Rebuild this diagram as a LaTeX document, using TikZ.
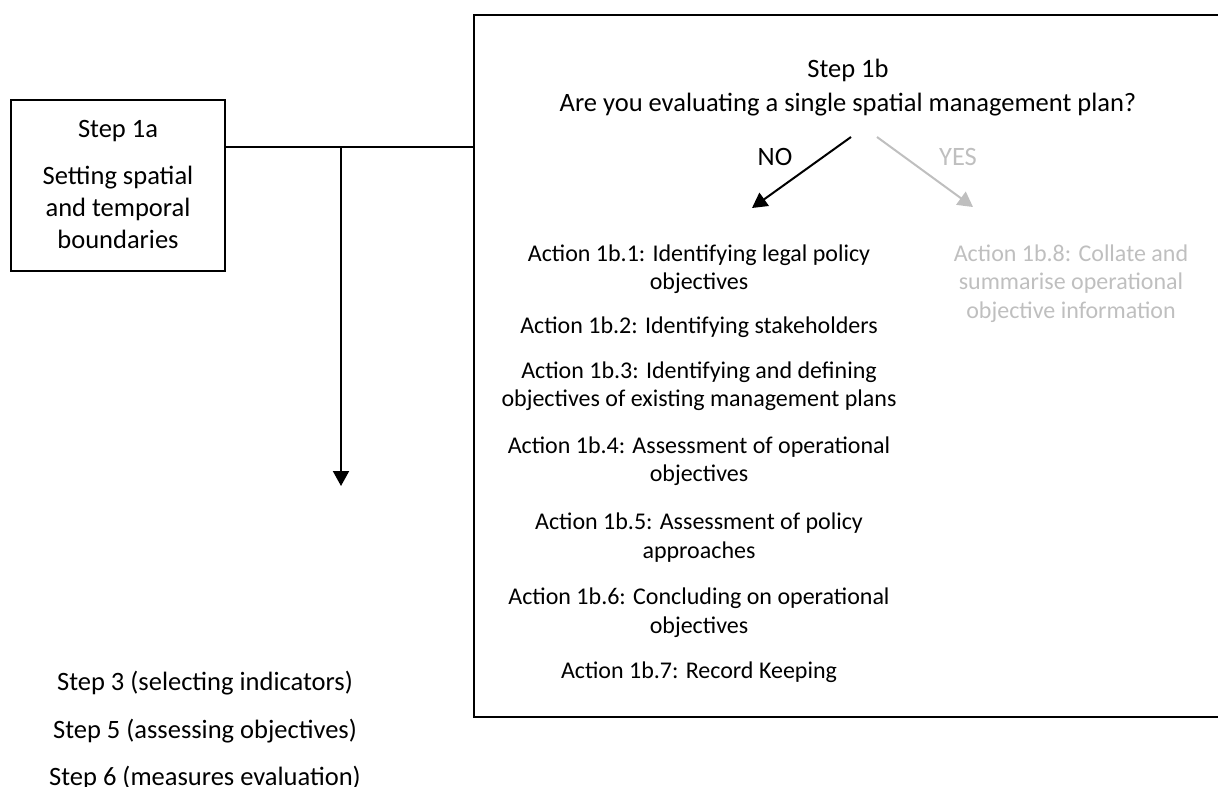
\documentclass[tikz,border=0pt]{standalone}
\usepackage{fontspec}
\setmainfont{Carlito}
\usetikzlibrary{arrows.meta}
\definecolor{faded}{HTML}{BFBFBF}
\begin{document}
% multi-line nodes are placed by the baseline of their last line
\begin{tikzpicture}[x=1pt,y=-1pt,
  frame/.style={draw, line width=2pt, inner sep=0pt},
  steptext/.style={font=\fontsize{26.5}{32.3}\selectfont, inner sep=0pt, align=center, anchor=base},
  actiontext/.style={font=\fontsize{24}{28.5}\selectfont, inner sep=0pt, align=center, anchor=base},
  flow/.style={line width=2pt, -{Triangle[length=15pt,width=16pt]}},
]
\useasboundingbox (0,0) rectangle (1218,787);
\clip (0,0) rectangle (1218,787);

% Step 1a box
\node[frame, minimum width=214pt, minimum height=171pt] (s1a) at (118,185.5) {};
\node[steptext] (s1atitle) at (118,137) {Step 1a};
\node[steptext] (s1abody) at (118,248.6) {Setting spatial\\and temporal\\boundaries};

% Step 1b box (runs off the right edge)
\node[frame, minimum width=780pt, minimum height=702pt] (b1b) at (864,366) {};
\node[steptext] (b1btitle) at (848,77) {Step 1b};
\node[steptext] (question) at (848,111) {Are you evaluating a single spatial management plan?};

% link between the two steps and the downward branch
\coordinate (junction) at (341,147);
\coordinate (downend) at (341,486);
\draw[line width=2pt] (junction -| s1a.east) -- (junction -| b1b.west);
\draw[flow] (junction) -- (downend);

% decision branches
\coordinate (notail) at (851,137);
\coordinate (nohead) at (752,208);
\coordinate (yestail) at (877,137);
\coordinate (yeshead) at (973,207);
\draw[flow] (notail) -- (nohead);
\draw[flow, faded] (yestail) -- (yeshead);
\node[steptext] (nolabel) at (775,165) {NO};
\node[steptext, text=faded] (yeslabel) at (958,165) {YES};

% actions on the NO branch
\node[actiontext] (a1) at (699,289.5) {Action 1b.1: Identifying legal policy\\objectives};
\node[actiontext] (a2) at (699,333) {Action 1b.2: Identifying stakeholders};
\node[actiontext] (a3) at (699,406.5) {Action 1b.3: Identifying and defining\\objectives of existing management plans};
\node[actiontext] (a4) at (699,481.5) {Action 1b.4: Assessment of operational\\objectives};
\node[actiontext] (a5) at (699,558) {Action 1b.5: Assessment of policy\\approaches};
\node[actiontext] (a6) at (699,633) {Action 1b.6: Concluding on operational\\objectives};
\node[actiontext] (a7) at (699,678) {Action 1b.7: Record Keeping};

% action on the YES branch
\node[actiontext, text=faded] (a8) at (1071,318) {Action 1b.8: Collate and\\summarise operational\\objective information};

% later steps
\node[steptext] (s3) at (205,690) {Step 3 (selecting indicators)};
\node[steptext] (s5) at (205,738) {Step 5 (assessing objectives)};
\node[steptext] (s6) at (205,785) {Step 6 (measures evaluation)};
\end{tikzpicture}
\end{document}
